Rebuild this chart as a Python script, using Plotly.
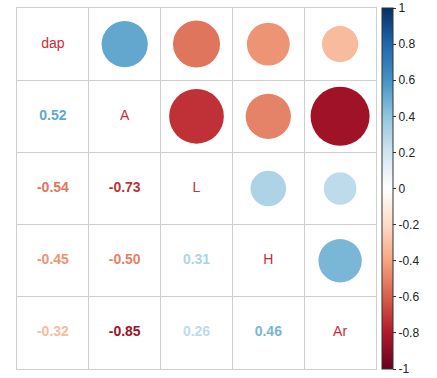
import plotly.graph_objects as go

variables = ["dap", "A", "L", "H", "Ar"]
# correlation values (lower triangle)
pairs = [
    ("dap", "A", 0.52),
    ("dap", "L", -0.54),
    ("dap", "H", -0.45),
    ("dap", "Ar", -0.32),
    ("A", "L", -0.73),
    ("A", "H", -0.50),
    ("A", "Ar", -0.85),
    ("L", "H", 0.31),
    ("L", "Ar", 0.26),
    ("H", "Ar", 0.46),
]
cbar_ticks = [1, 0.8, 0.6, 0.4, 0.2, 0, -0.2, -0.4, -0.6, -0.8, -1]

rdbu = ["#67001F", "#B2182B", "#D6604D", "#F4A582", "#FDDBC7", "#FFFFFF",
        "#D1E5F0", "#92C5DE", "#4393C3", "#2166AC", "#053061"]
colorscale = [[i / (len(rdbu) - 1), c] for i, c in enumerate(rdbu)]


def hex2rgb(h):
    h = h.lstrip("#")
    return tuple(int(h[i:i + 2], 16) for i in (0, 2, 4))


def cmap(v):
    t = (v + 1) / 2 * (len(rdbu) - 1)
    i = min(int(t), len(rdbu) - 2)
    f = t - i
    a, b = hex2rgb(rdbu[i]), hex2rgb(rdbu[i + 1])
    c = [round(a[k] + (b[k] - a[k]) * f) for k in range(3)]
    return f"rgb({c[0]},{c[1]},{c[2]})"


idx = {v: i + 1 for i, v in enumerate(variables)}
MAXD = 64

# upper triangle circles: row = first var, col = second var
cx = [idx[b] for a, b, r in pairs]
cy = [idx[a] for a, b, r in pairs]
cr = [r for a, b, r in pairs]
csize = [MAXD * abs(r) ** 0.5 for r in cr]

# lower triangle numbers: row = second var, col = first var
tx = [idx[a] for a, b, r in pairs]
ty = [idx[b] for a, b, r in pairs]
tt = [f"{r:.2f}" for r in cr]
tcol = [cmap(r) for r in cr]

fig = go.Figure()
fig.add_trace(go.Scatter(
    x=cx, y=cy, mode="markers",
    marker=dict(size=csize, color=cr, colorscale=colorscale, cmin=-1, cmax=1,
                line=dict(width=0), opacity=1,
                showscale=True,
                colorbar=dict(
                    x=1.017, xanchor="left", xref="paper",
                    y=0.5, yanchor="middle", len=1, lenmode="fraction",
                    thickness=11, outlinewidth=1, outlinecolor="#333333",
                    xpad=0, ypad=0,
                    tickvals=cbar_ticks, ticktext=[str(t) for t in cbar_ticks],
                    ticks="outside", ticklen=3, tickcolor="#333333",
                    tickfont=dict(family="Liberation Sans, Arial", size=12, color="#222222"),
                )),
    hoverinfo="skip", showlegend=False,
))
fig.add_trace(go.Scatter(
    x=tx, y=ty, mode="text", text=tt,
    textfont=dict(family="Liberation Sans, Arial", size=14, color=tcol, weight="bold"),
    hoverinfo="skip", showlegend=False,
))
fig.add_trace(go.Scatter(
    x=list(range(1, len(variables) + 1)), y=list(range(1, len(variables) + 1)),
    mode="text", text=variables,
    textfont=dict(family="Liberation Sans, Arial", size=14, color="#CC2A36"),
    hoverinfo="skip", showlegend=False,
))

n = len(variables)
bounds = [i + 0.5 for i in range(n + 1)]
axis_common = dict(
    tickvals=bounds, showticklabels=False, ticks="", showgrid=True,
    gridcolor="#CFCFCF", gridwidth=1, zeroline=False,
    showline=True, mirror=True, linecolor="#CFCFCF", linewidth=1,
)
fig.update_xaxes(range=[0.5, n + 0.5], **axis_common)
fig.update_yaxes(range=[n + 0.5, 0.5], **axis_common)

fig.update_layout(
    width=437, height=378,
    margin=dict(l=17, r=61, t=8, b=9, autoexpand=False),
    plot_bgcolor="white", paper_bgcolor="white",
)

fig.write_html("out.html", config={"displayModeBar": False},
               post_script="document.body.style.margin='0px';")
